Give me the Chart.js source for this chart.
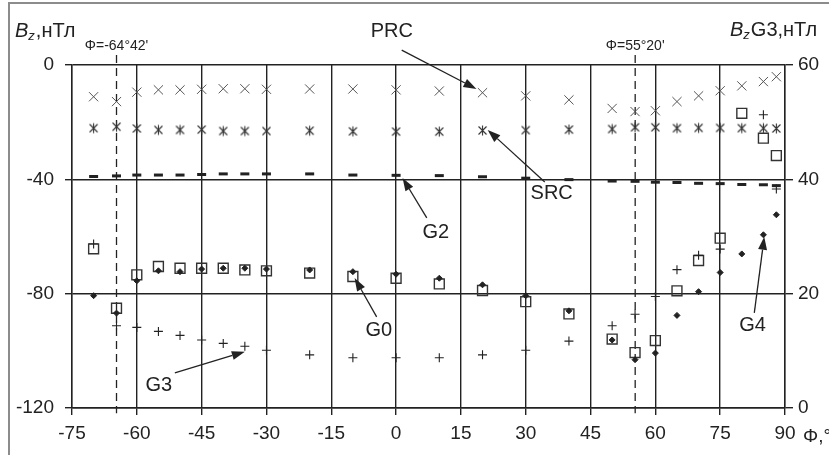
<!DOCTYPE html>
<html>
<head>
<meta charset="utf-8">
<script src="https://cdn.jsdelivr.net/npm/chart.js@4.4.1/dist/chart.umd.min.js"></script>
<style>
    html, body { margin: 0; padding: 0; background: #fff; }
</style>
</head>
<body>
<canvas id="chart" width="829" height="455"></canvas>
<script>
// latitude of each station group, degrees
const phi = [-70, -64.7, -60, -55, -50, -45, -40, -35, -30, -20, -10, 0, 10, 20, 30, 40, 50, 55.3, 60, 65, 70, 75, 80, 85, 88];

// left axis, nT
const prc = [-11.1, -12.8, -9.5, -8.7, -8.7, -8.5, -8.3, -8.3, -8.5, -8.4, -8.4, -8.7, -9.1, -9.7, -10.8, -12.2, -15.2, -16.3, -16.0, -12.8, -10.8, -9.0, -7.3, -5.8, -4.1];
const src = [-22.1, -21.6, -22.2, -22.7, -22.7, -22.6, -23.1, -23.1, -23.1, -23.0, -23.2, -23.3, -23.3, -22.9, -22.8, -22.6, -22.4, -21.8, -21.8, -22.1, -22.0, -22.0, -22.1, -22.1, -22.2];
const g2 = [-39.0, -38.8, -38.5, -38.5, -38.5, -38.3, -38.1, -38.1, -38.1, -38.1, -38.5, -38.6, -38.7, -39.1, -39.6, -40.1, -40.6, -40.7, -41.0, -41.1, -41.4, -41.5, -41.8, -41.9, -42.2];
const g0 = [-64.3, -85.1, -73.4, -70.5, -71.1, -71.1, -71.1, -71.7, -72.0, -72.8, -74.0, -74.6, -76.6, -78.9, -82.8, -87.1, -95.9, -100.6, -96.4, -79.0, -68.4, -60.6, -16.9, -25.6, -31.7];
const g4 = [-80.7, -86.8, -75.5, -72.0, -72.3, -71.4, -71.1, -71.1, -71.4, -71.7, -72.3, -73.2, -74.6, -76.9, -80.7, -86.0, -96.2, -103.1, -100.8, -87.6, -79.3, -72.6, -66.1, -59.4, -52.4];

// right axis, nT
const g3 = [28.7, 14.4, 14.1, 13.4, 12.7, 11.9, 11.3, 10.8, 10.1, 9.3, 8.8, 8.8, 8.8, 9.3, 10.1, 11.7, 14.4, 16.4, 19.5, 24.2, 26.7, 27.8, null, 51.3, 38.3];

const xTicks = [-75, -60, -45, -30, -15, 0, 15, 30, 45, 60, 75, 90];
const yTicks = [-120, -80, -40, 0];
const y2Ticks = [0, 20, 40, 60];

// station latitudes marked with dashed lines
const markers = [
    { phi: -64.7, text: 'Φ=-64°42\'' },
    { phi: 55.33, text: 'Φ=55°20\'' }
];

// labels with arrows, in data units: text position, arrow start, arrow end
const callouts = [
    { text: 'PRC', at: [-1.0, 11.8], from: [1.3, 5.2], to: [18.6, -8.4] },
    { text: 'SRC', at: [36.0, -45.0], from: [34.4, -40.9], to: [21.2, -22.7] },
    { text: 'G2', at: [9.2, -58.6], from: [7.1, -53.5], to: [1.5, -39.5] },
    { text: 'G0', at: [-4.0, -93.0], from: [-4.5, -88.1], to: [-9.6, -74.5] },
    { text: 'G3', at: [-54.9, -112.0], from: [-51.2, -107.7], to: [-35.0, -100.3] },
    { text: 'G4', at: [82.5, -91.0], from: [82.9, -86.7], to: [85.2, -60.1] }
];

const FONT = '"Liberation Sans", Arial, sans-serif';
const INK = '#222';

function points(values) {
    return phi.map((x, i) => ({ x: x, y: values[i] })).filter(p => p.y !== null);
}

// six-armed asterisk used for SRC
function asteriskMarker() {
    const c = document.createElement('canvas');
    c.width = 13;
    c.height = 13;
    const ctx = c.getContext('2d');
    ctx.strokeStyle = '#333';
    ctx.lineWidth = 1.1;
    ctx.beginPath();
    ctx.moveTo(2.5, 2.5); ctx.lineTo(10.5, 10.5);
    ctx.moveTo(10.5, 2.5); ctx.lineTo(2.5, 10.5);
    ctx.moveTo(6.5, 1.5); ctx.lineTo(6.5, 11.5);
    ctx.stroke();
    return c;
}

function drawArrow(ctx, x1, y1, x2, y2) {
    const a = Math.atan2(y2 - y1, x2 - x1);
    const len = 13, half = 4.5;
    const bx = x2 - len * Math.cos(a), by = y2 - len * Math.sin(a);
    ctx.beginPath();
    ctx.moveTo(x1, y1);
    ctx.lineTo(bx, by);
    ctx.stroke();
    ctx.beginPath();
    ctx.moveTo(x2, y2);
    ctx.lineTo(bx + half * Math.sin(a), by - half * Math.cos(a));
    ctx.lineTo(bx - half * Math.sin(a), by + half * Math.cos(a));
    ctx.closePath();
    ctx.fill();
}

function drawTitle(ctx, x, y, tail) {
    ctx.textAlign = 'left';
    ctx.textBaseline = 'alphabetic';
    ctx.font = 'italic 20px ' + FONT;
    ctx.fillText('B', x, y);
    x += ctx.measureText('B').width;
    ctx.font = 'italic 13px ' + FONT;
    ctx.fillText('z', x, y + 3);
    x += ctx.measureText('z').width + 1;
    ctx.font = '20px ' + FONT;
    ctx.fillText(tail, x, y);
}

const overlay = {
    id: 'overlay',
    beforeDatasetsDraw(chart) {
        const { ctx, scales } = chart;
        ctx.save();
        ctx.strokeStyle = INK;
        ctx.lineWidth = 1.3;
        ctx.setLineDash([8, 5]);
        markers.forEach(m => {
            const x = scales.x.getPixelForValue(m.phi);
            ctx.beginPath();
            ctx.moveTo(x, scales.y.getPixelForValue(3.5));
            ctx.lineTo(x, scales.y.getPixelForValue(-121.8));
            ctx.stroke();
        });
        ctx.restore();
    },
    afterDraw(chart) {
        const { ctx, scales, chartArea } = chart;
        const px = p => [scales.x.getPixelForValue(p[0]), scales.y.getPixelForValue(p[1])];
        ctx.save();

        // page frame
        ctx.strokeStyle = '#8c8c8c';
        ctx.lineWidth = 2;
        ctx.beginPath();
        ctx.moveTo(9, 455);
        ctx.lineTo(9, 3);
        ctx.lineTo(829, 3);
        ctx.stroke();

        ctx.fillStyle = INK;
        ctx.strokeStyle = INK;
        ctx.lineWidth = 1.3;

        ctx.font = '14px ' + FONT;
        ctx.textAlign = 'center';
        ctx.textBaseline = 'middle';
        markers.forEach(m => {
            ctx.fillText(m.text, scales.x.getPixelForValue(m.phi), chartArea.top - 19);
        });

        ctx.font = '20px ' + FONT;
        callouts.forEach(c => {
            const t = px(c.at), f = px(c.from), e = px(c.to);
            ctx.textAlign = 'center';
            ctx.textBaseline = 'middle';
            ctx.fillText(c.text, t[0], t[1]);
            drawArrow(ctx, f[0], f[1], e[0], e[1]);
        });

        drawTitle(ctx, 15, 37, ',нТл');
        drawTitle(ctx, 730, 36, 'G3,нТл');

        ctx.font = '19px ' + FONT;
        ctx.textAlign = 'left';
        ctx.textBaseline = 'alphabetic';
        ctx.fillText('Φ,°', chartArea.right + 18, 442);

        ctx.restore();
    }
};

const gridStyle = { color: INK, lineWidth: 1.4, tickLength: 7, tickColor: INK };
const tickFont = { family: FONT, size: 19 };

new Chart(document.getElementById('chart'), {
    type: 'scatter',
    data: {
        datasets: [
            { label: 'G4', data: points(g4), pointStyle: 'rectRot', radius: 3, backgroundColor: INK, borderColor: INK, borderWidth: 1 },
            { label: 'G3', data: points(g3), yAxisID: 'y2', pointStyle: 'cross', radius: 4.5, borderColor: INK, borderWidth: 1.1 },
            { label: 'G0', data: points(g0), pointStyle: 'rect', radius: 7, backgroundColor: 'rgba(0,0,0,0)', borderColor: '#333', borderWidth: 1.4 },
            { label: 'G2', data: points(g2), pointStyle: 'line', radius: 4.5, borderColor: INK, borderWidth: 3 },
            { label: 'SRC', data: points(src), pointStyle: asteriskMarker() },
            { label: 'PRC', data: points(prc), pointStyle: 'crossRot', radius: 6.5, borderColor: '#555', borderWidth: 1 }
        ]
    },
    options: {
        responsive: false,
        animation: false,
        layout: { padding: { left: 10, top: 65, right: 0, bottom: 0 } },
        plugins: {
            legend: { display: false },
            tooltip: { enabled: false }
        },
        scales: {
            x: {
                type: 'linear',
                min: -75,
                max: 90,
                afterFit: s => { s.height = 47; },
                afterBuildTicks: s => { s.ticks = xTicks.map(v => ({ value: v })); },
                grid: gridStyle,
                border: { color: INK, width: 1.4 },
                ticks: { color: INK, font: tickFont, padding: 7, maxRotation: 0, autoSkip: false }
            },
            y: {
                min: -120,
                max: 0,
                afterFit: s => { s.width = 62; },
                afterBuildTicks: s => { s.ticks = yTicks.map(v => ({ value: v })); },
                grid: gridStyle,
                border: { color: INK, width: 1.4 },
                ticks: { color: INK, font: tickFont, padding: 11 }
            },
            y2: {
                position: 'right',
                min: 0,
                max: 60,
                afterFit: s => { s.width = 44; },
                afterBuildTicks: s => { s.ticks = y2Ticks.map(v => ({ value: v })); },
                grid: { drawOnChartArea: false, color: INK, lineWidth: 1.4, tickLength: 8, tickColor: INK },
                border: { color: INK, width: 1.4 },
                ticks: { color: INK, font: tickFont, padding: 5 }
            }
        }
    },
    plugins: [overlay]
});
</script>
</body>
</html>
